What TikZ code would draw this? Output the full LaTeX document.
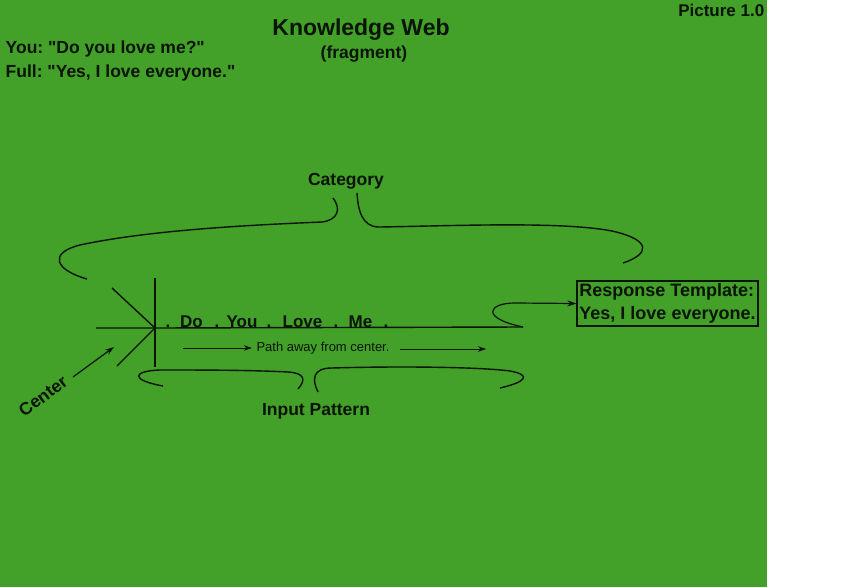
\documentclass[tikz,border=0pt]{standalone}
\usepackage{fontspec}
\setmainfont{Liberation Sans}[Ligatures=TeXOff]
\usetikzlibrary{arrows.meta}
\definecolor{bg}{RGB}{67,160,40}
\definecolor{ink}{RGB}{10,20,8}
\frenchspacing
\begin{document}
\begin{tikzpicture}[x=1pt,y=-1pt,
  line width=1.4pt, draw=ink,
  lbl/.style={font=\bfseries\fontsize{17.5}{21}\selectfont, text=ink, inner sep=0pt},
  word/.style={font=\bfseries\fontsize{17}{20}\selectfont, text=ink, inner sep=0pt, anchor=base},
  small/.style={font=\fontsize{13}{15}\selectfont, text=ink, inner sep=0pt},
  tip/.style={-{Stealth[length=9pt,width=6pt]}},
  thintip/.style={-{Stealth[length=8pt,width=5.5pt]}, line width=0.6pt}]
\useasboundingbox (0,0) rectangle (860,587);
\fill[bg] (0,0) rectangle (767,587);

% header texts
\node[font=\bfseries\fontsize{23}{26}\selectfont, text=ink, inner sep=0pt] (title) at (361,30) {Knowledge Web};
\node[lbl] (frag) at (364,54) {(fragment)};
\node[lbl, anchor=north east, font=\bfseries\fontsize{17}{20}\selectfont] (pic) at (765,3) {Picture 1.0};
\node[lbl, anchor=base west] (you) at (5,53) {You: "Do you love me?"};
\node[lbl, anchor=base west] (full) at (5,77) {Full: "Yes, I love everyone."};

% center star
\coordinate (c) at (155,328);
\coordinate (vt) at (155,278);
\coordinate (vb) at (155,367);
\coordinate (hl) at (96,328);
\coordinate (hr) at (523,327);
\coordinate (du) at (112,288);
\coordinate (dl) at (117,366);
\draw (vt) -- (vb);
\draw (hl) -- (c) -- (hr);
\draw (du) -- (c) -- (dl);

% words on the path
\node[word] (d1) at (168,327) {.};
\node[word] (w1) at (191.5,327) {Do};
\node[word] (d2) at (217,327) {.};
\node[word] (w2) at (242,327) {You};
\node[word] (d3) at (269,327) {.};
\node[word] (w3) at (302.5,327) {Love};
\node[word] (d4) at (336,327) {.};
\node[word] (w4) at (360.5,327) {Me};
\node[word] (d5) at (386,327) {.};

% path away from center
\node[small] (pa) at (323,348) {Path away from center.};
\coordinate (a1) at (183,348);
\coordinate (a2) at (400,349);
\coordinate (a3) at (486,349);
\draw[thintip] (a1) -- ([xshift=-4pt]pa.west);
\draw[thintip] (a2) -- (a3);

% center label
\node[lbl, rotate=37] (cen) at (43,396) {Center};
\coordinate (cs) at (73,377);
\coordinate (ct) at (114,347);
\draw[tip, line width=1.2pt] (cs) -- (ct);

% category brace
\node[lbl] (cat) at (346,181) {Category};
\draw (87,279) .. controls (55,270) and (48,253) .. (80,245)
      .. controls (150,230) and (250,225) .. (322,222)
      .. controls (337,220) and (342,210) .. (333,198);
\draw (357,193) .. controls (358,210) and (362,227) .. (379,227)
      .. controls (450,226) and (560,221) .. (612,231)
      .. controls (652,240) and (650,254) .. (623,263);

% input pattern brace
\node[lbl] (inp) at (316,411) {Input Pattern};
\draw (163,386) .. controls (130,380) and (132,371) .. (160,370)
      .. controls (200,370) and (250,370) .. (288,372)
      .. controls (305,373) and (306,380) .. (298,389);
\draw (318,392) .. controls (312,380) and (312,368) .. (332,368)
      .. controls (400,366) and (480,367) .. (510,371)
      .. controls (532,375) and (526,382) .. (500,388);

% response template
\node[draw, line width=1.3pt, minimum width=181pt, minimum height=45pt,
      inner sep=2pt, align=left, font=\bfseries\fontsize{18}{22.5}\selectfont, text=ink] (rt) at (667.5,303.5)
  {Response Template:\\Yes, I love everyone.};
\draw[tip, line width=1.2pt] (hr) .. controls (480,318) and (488,303) .. (515,303) -- (rt.west);
\end{tikzpicture}
\end{document}
